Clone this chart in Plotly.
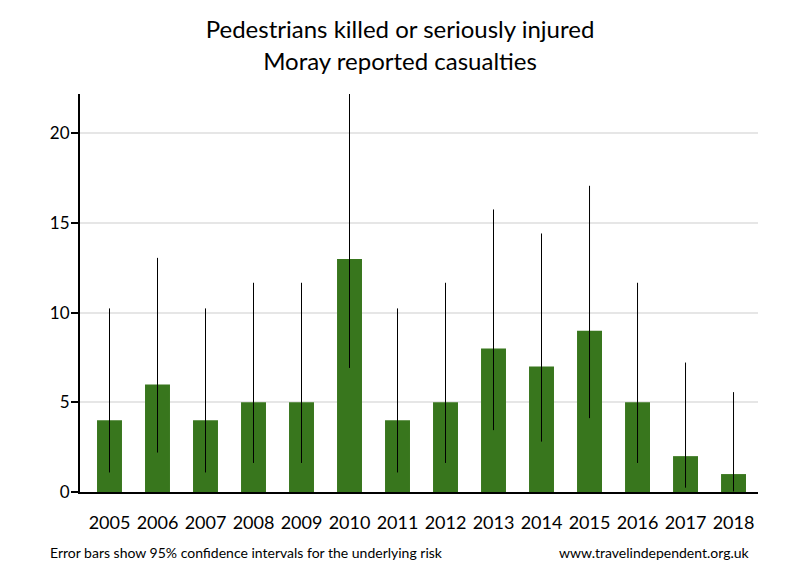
import plotly.graph_objects as go

years = ["2005", "2006", "2007", "2008", "2009", "2010", "2011", "2012", "2013", "2014", "2015", "2016", "2017", "2018"]
casualties = [4, 6, 4, 5, 5, 13, 4, 5, 8, 7, 9, 5, 2, 1]
ci_upper = [10.24, 13.06, 10.24, 11.67, 11.67, 22.23, 10.24, 11.67, 15.76, 14.42, 17.08, 11.67, 7.22, 5.57]
ci_lower = [1.09, 2.20, 1.09, 1.62, 1.62, 6.92, 1.09, 1.62, 3.45, 2.81, 4.12, 1.62, 0.24, 0.03]

err_plus = [u - v for u, v in zip(ci_upper, casualties)]
err_minus = [v - l for v, l in zip(casualties, ci_lower)]

FONT = "Lato"

fig = go.Figure(go.Bar(
    x=list(range(len(years))), y=casualties,
    marker=dict(color="#38761d", line=dict(width=0)),
    width=0.52,
    error_y=dict(type="data", symmetric=False, array=err_plus, arrayminus=err_minus,
                 color="black", thickness=1, width=0),
))

# page body has an 8px default margin, so the figure is 792x572
fig.update_layout(
    width=792, height=572,
    paper_bgcolor="white", plot_bgcolor="white",
    margin=dict(l=72, r=42, t=86, b=87.5, autoexpand=False),
    showlegend=False,
    font=dict(family=FONT, color="black"),
    title=dict(text="Pedestrians killed or seriously injured<br>Moray reported casualties",
               x=0.495, xanchor="center", yref="container", y=0.947, yanchor="middle",
               font=dict(size=24, family=FONT, color="black")),
    xaxis=dict(range=[-0.6146, 13.51], showline=True, linecolor="black", linewidth=2, ticks="",
               tickvals=list(range(len(years))), ticktext=years, showgrid=False, zeroline=False,
               tickfont=dict(size=18, family=FONT, color="black"), ticklabelstandoff=13,
               automargin=False),
    yaxis=dict(range=[0, 22.2], showline=True, linecolor="black", linewidth=2,
               ticks="outside", ticklen=7, tickwidth=2, tickcolor="black",
               tickvals=[0, 5, 10, 15, 20], ticklabelstandoff=-2,
               showgrid=True, gridcolor="#e6e6e6", gridwidth=2, zeroline=False,
               tickfont=dict(size=17, family=FONT, color="black"), automargin=False),
    annotations=[
        dict(text="Error bars show 95% confidence intervals for the underlying risk",
             xref="paper", yref="paper", x=-0.0472, y=-0.152, xanchor="left", yanchor="middle",
             showarrow=False, font=dict(size=14, family=FONT, color="black")),
        dict(text="www.travelindependent.org.uk",
             xref="paper", yref="paper", x=0.991, y=-0.152, xanchor="right", yanchor="middle",
             showarrow=False, font=dict(size=14, family=FONT, color="black")),
    ],
)

fig.write_html("out.html")
